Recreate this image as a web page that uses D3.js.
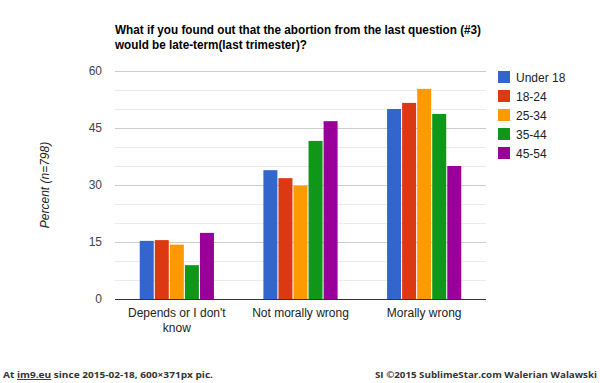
<!DOCTYPE html>
<html>
<head>
<meta charset="utf-8">
<script src="https://cdn.jsdelivr.net/npm/d3@7"></script>
<style>
  body { margin: 0; background: #fff; }
  svg { display: block; }
</style>
</head>
<body>
<div id="chart"></div>
<script>
// datos de la grafica
var categories = ["Depends or I don't know", "Not morally wrong", "Morally wrong"];
var series = ["Under 18", "18-24", "25-34", "35-44", "45-54"];
var colors = ["#3366cc", "#dc3912", "#ff9900", "#109618", "#990099"];
var valuesUnder18 = [15.3, 33.9, 50.0];
var values18to24 = [15.5, 31.8, 51.6];
var values25to34 = [14.3, 29.8, 55.3];
var values35to44 = [8.9, 41.6, 48.7];
var values45to54 = [17.4, 46.8, 35.0];
var yTicks = [0, 15, 30, 45, 60];

var allValues = [valuesUnder18, values18to24, values25to34, values35to44, values45to54];

var W = 600, H = 383;
var plot = {left: 115, right: 486, top: 71, bottom: 299};

var svg = d3.select("#chart").append("svg")
    .attr("width", W)
    .attr("height", H)
    .style("font-family", "Arial, 'Liberation Sans', sans-serif");

// escalas
var x0 = d3.scaleBand()
    .domain(categories)
    .range([plot.left, plot.right])
    .paddingInner(0.4)
    .paddingOuter(0.2);

var x1 = d3.scaleBand()
    .domain(series)
    .range([0, x0.bandwidth()])
    .paddingInner(0.07);

var y = d3.scaleLinear()
    .domain([0, 60])
    .range([plot.bottom, plot.top]);

// lineas de la rejilla
var grid = d3.range(0, 61, 5);
svg.append("g").selectAll("line")
    .data(grid)
  .enter().append("line")
    .attr("x1", plot.left)
    .attr("x2", plot.right)
    .attr("y1", function(d) { return Math.round(y(d)) + 0.5; })
    .attr("y2", function(d) { return Math.round(y(d)) + 0.5; })
    .attr("stroke", function(d) { return d % 15 === 0 ? "#cccccc" : "#ebebeb"; })
    .attr("stroke-width", 1);

// eje y
var yAxis = svg.append("g")
    .attr("transform", "translate(" + (plot.left - 13) + ",0)")
    .call(d3.axisLeft(y).tickValues(yTicks).tickSize(0).tickPadding(0));
yAxis.select(".domain").remove();
yAxis.selectAll("text")
    .attr("fill", "#444")
    .style("font-size", "12px")
    .style("font-family", "Arial, 'Liberation Sans', sans-serif");

// barras
var groups = svg.append("g").selectAll("g")
    .data(categories)
  .enter().append("g")
    .attr("transform", function(d) { return "translate(" + x0(d) + ",0)"; });

groups.selectAll("rect")
    .data(function(c, ci) {
      return series.map(function(s, si) { return {s: s, i: si, v: allValues[si][ci]}; });
    })
  .enter().append("rect")
    .attr("x", function(d) { return x1(d.s); })
    .attr("width", x1.bandwidth())
    .attr("y", function(d) { return y(d.v); })
    .attr("height", function(d) { return y(0) - y(d.v); })
    .attr("fill", function(d) { return colors[d.i]; });

// linea base
svg.append("line")
    .attr("x1", plot.left).attr("x2", plot.right)
    .attr("y1", plot.bottom + 0.5).attr("y2", plot.bottom + 0.5)
    .attr("stroke", "#333").attr("stroke-width", 1);

// etiquetas del eje x
var xl = svg.append("g").selectAll("text")
    .data(categories)
  .enter().append("text")
    .attr("x", function(d) { return x0(d) + x0.bandwidth() / 2; })
    .attr("y", 317)
    .attr("text-anchor", "middle")
    .attr("fill", "#222")
    .style("font-size", "12px");
xl.each(function(d) {
  var t = d3.select(this);
  var lines = d === categories[0] ? ["Depends or I don't", "know"] : [d];
  lines.forEach(function(l, i) {
    t.append("tspan")
      .attr("x", t.attr("x"))
      .attr("dy", i === 0 ? 0 : 15)
      .text(l);
  });
});

// titulo del eje y
svg.append("text")
    .attr("transform", "translate(49,185) rotate(-90)")
    .attr("text-anchor", "middle")
    .attr("fill", "#222")
    .style("font-style", "italic")
    .style("font-size", "12px")
    .text("Percent (n=798)");

// titulo, dos lineas
svg.append("text")
    .attr("x", 115).attr("y", 34)
    .attr("fill", "#000")
    .attr("textLength", 366)
    .attr("lengthAdjust", "spacingAndGlyphs")
    .style("font-weight", "bold")
    .style("font-size", "12px")
    .text("What if you found out that the abortion from the last question (#3)");
svg.append("text")
    .attr("x", 115).attr("y", 49)
    .attr("fill", "#000")
    .attr("textLength", 192)
    .attr("lengthAdjust", "spacingAndGlyphs")
    .style("font-weight", "bold")
    .style("font-size", "12px")
    .text("would be late-term(last trimester)?");

// leyenda
var legend = svg.append("g").selectAll("g")
    .data(series)
  .enter().append("g")
    .attr("transform", function(d, i) { return "translate(498," + (71 + i * 19) + ")"; });
legend.append("rect")
    .attr("width", 12).attr("height", 12)
    .attr("fill", function(d, i) { return colors[i]; });
legend.append("text")
    .attr("x", 18).attr("y", 10.5)
    .attr("fill", "#222")
    .style("font-size", "12px")
    .text(function(d) { return d; });

// pie de pagina
var foot = svg.append("g")
    .style("font-family", "'Open Sans', 'DejaVu Sans', sans-serif")
    .style("font-weight", "bold")
    .style("font-size", "9.5px")
    .attr("fill", "#333");
var left = foot.append("text").attr("x", 3).attr("y", 378)
    .attr("textLength", 210).attr("lengthAdjust", "spacingAndGlyphs");
left.append("tspan").text("At ");
left.append("tspan").style("text-decoration", "underline").text("im9.eu");
left.append("tspan").text(" since 2015-02-18, 600\u00d7371px pic.");
foot.append("text")
    .attr("x", 597).attr("y", 378)
    .attr("text-anchor", "end")
    .attr("textLength", 222).attr("lengthAdjust", "spacingAndGlyphs")
    .text("SI \u00a92015 SublimeStar.com Walerian Walawski");
</script>
</body>
</html>
